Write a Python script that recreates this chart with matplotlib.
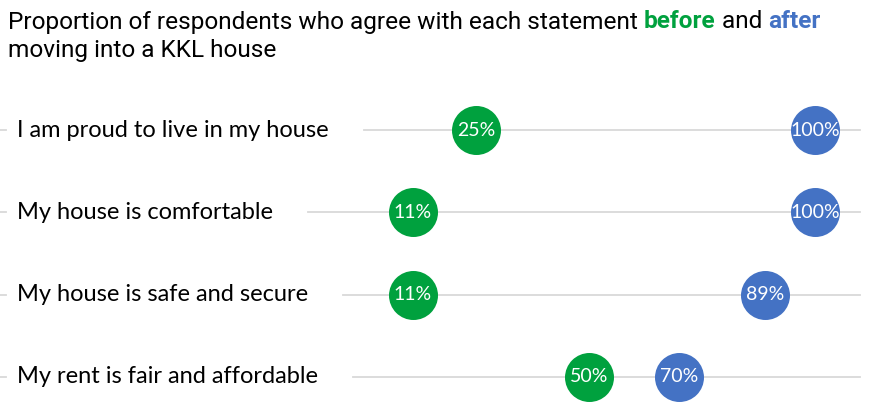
import numpy as np
import matplotlib
import matplotlib.pyplot as plt

matplotlib.rcParams['font.family'] = ['Lato', 'DejaVu Sans']

# data
statements = ['I am proud to live in my house',
              'My house is comfortable',
              'My house is safe and secure',
              'My rent is fair and affordable']
before = [25, 11, 11, 50]
after = [100, 100, 89, 70]

green = '#00a13e'
blue = '#4472c4'
grid_col = '#d9d9d9'

W, H = 881, 418
px_per_pct = 4.52
x0_px = 363
row0_px = 130
row_px = 82.3

fig = plt.figure(figsize=(W / 100, H / 100), dpi=100)
ax = fig.add_axes([0, 0, 1, 1])
ax.set_xlim(-x0_px / px_per_pct, (W - x0_px) / px_per_pct)
ax.set_ylim((H - row0_px) / row_px, -row0_px / row_px)
ax.axis('off')

fig.canvas.draw()
renderer = fig.canvas.get_renderer()
inv = ax.transData.inverted()
label_tr = matplotlib.transforms.blended_transform_factory(
    matplotlib.transforms.IdentityTransform(), ax.transData)

rows = np.arange(len(statements))
for i, s in enumerate(statements):
    t = ax.text(17, rows[i], s, fontsize=17, va='center', ha='left', transform=label_tr)
    bb = t.get_window_extent(renderer)
    # gridline from label end to right edge
    x_start = inv.transform((bb.x1 + 35, 0))[0]
    x_end = inv.transform((860, 0))[0]
    ax.plot([x_start, x_end], [rows[i], rows[i]], color=grid_col, lw=1.3, zorder=1)
    ax.plot([inv.transform((0, 0))[0], inv.transform((6, 0))[0]], [rows[i], rows[i]],
            color=grid_col, lw=1.3, zorder=1)

ax.scatter(before, rows, s=(49 * 0.72) ** 2, color=green, zorder=3, linewidths=0)
ax.scatter(after, rows, s=(49 * 0.72) ** 2, color=blue, zorder=3, linewidths=0)
for i in rows:
    ax.text(before[i], i, f'{before[i]}%', color='white', fontsize=14,
            ha='center', va='center', zorder=4)
    ax.text(after[i], i, f'{after[i]}%', color='white', fontsize=14,
            ha='center', va='center', zorder=4)

# title with coloured words
title_font = ['Roboto', 'DejaVu Sans']
pieces = [('Proportion of respondents who agree with each statement ', 'black', 'normal'),
          ('before', green, 'bold'),
          (' and ', 'black', 'normal'),
          ('after', blue, 'bold')]
x = 8
for txt, col, wt in pieces:
    t = fig.text(x / W, 1 - 22 / H, txt, color=col, fontsize=17.6, fontweight=wt,
                 family=title_font, va='center', ha='left')
    x = t.get_window_extent(renderer).x1
fig.text(8 / W, 1 - 50 / H, 'moving into a KKL house', color='black', fontsize=17.6,
         family=title_font, va='center', ha='left')

plt.savefig('out.png', dpi=100)
